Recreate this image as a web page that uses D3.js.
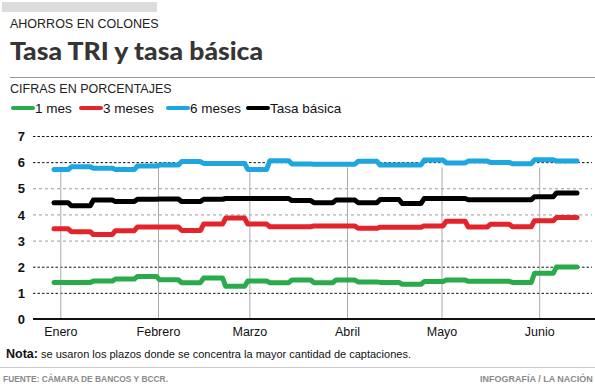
<!DOCTYPE html>
<html>
<head>
<meta charset="utf-8">
<script src="https://cdn.jsdelivr.net/npm/d3@7"></script>
<style>
  body { margin: 0; background: #fff; }
  text { font-family: "Liberation Sans", Arial, sans-serif; }
</style>
</head>
<body>
<div id="chart"></div>
<script>
// Weekly change dates (each value holds until the next date)
var weekDates = ["2015-12-30", "2016-01-04", "2016-01-11", "2016-01-18", "2016-01-25",
  "2016-02-01", "2016-02-08", "2016-02-15", "2016-02-22", "2016-02-29",
  "2016-03-07", "2016-03-14", "2016-03-21", "2016-03-28", "2016-04-04",
  "2016-04-11", "2016-04-18", "2016-04-25", "2016-05-02", "2016-05-09",
  "2016-05-16", "2016-05-23", "2016-05-30", "2016-06-06"];
var lastDate = "2016-06-13";

var oneMonth = [1.40, 1.40, 1.45, 1.53, 1.63, 1.50, 1.39, 1.57, 1.25, 1.45, 1.39, 1.49,
  1.39, 1.49, 1.42, 1.40, 1.33, 1.43, 1.49, 1.44, 1.44, 1.40, 1.75, 1.99];
var threeMonths = [3.45, 3.34, 3.23, 3.38, 3.52, 3.52, 3.39, 3.63, 3.86, 3.63, 3.53, 3.53,
  3.56, 3.56, 3.47, 3.51, 3.51, 3.56, 3.74, 3.52, 3.62, 3.53, 3.76, 3.88];
var sixMonths = [5.72, 5.82, 5.77, 5.72, 5.85, 5.89, 6.02, 5.95, 5.95, 5.72, 6.05, 5.93,
  5.92, 5.92, 6.03, 5.89, 5.89, 6.08, 5.97, 6.04, 5.99, 5.94, 6.09, 6.04];
var basicRate = [4.45, 4.33, 4.55, 4.49, 4.58, 4.59, 4.49, 4.58, 4.61, 4.61, 4.61, 4.53,
  4.45, 4.55, 4.45, 4.57, 4.42, 4.61, 4.61, 4.56, 4.56, 4.56, 4.68, 4.82];

var seriesNames = ["1 mes", "3 meses", "6 meses", "Tasa básica"];
var seriesColors = ["#2aab4b", "#e3242b", "#1ea6e0", "#000000"];
var seriesValues = [oneMonth, threeMonths, sixMonths, basicRate];

var monthDates = ["2016-01-01", "2016-02-01", "2016-03-01", "2016-04-01", "2016-05-01", "2016-06-01"];
var monthLabels = ["Enero", "Febrero", "Marzo", "Abril", "Mayo", "Junio"];
var yTicks = [0, 1, 2, 3, 4, 5, 6, 7];

// chart size
var svgWidth = 595;
var svgHeight = 386;
var plotLeft = 33;
var plotRight = 592;
var legendX = [13, 81, 168, 248];

var parse = d3.timeParse("%Y-%m-%d");
var dates = weekDates.map(parse);
var endDate = parse(lastDate);

var svg = d3.select("#chart")
  .append("svg")
  .attr("width", svgWidth)
  .attr("height", svgHeight);

// header
svg.append("rect")
  .attr("x", 2).attr("y", 2)
  .attr("width", 155).attr("height", 10)
  .attr("fill", "#dcdcdc");

svg.append("text")
  .attr("x", 10).attr("y", 27.5)
  .attr("font-size", "12.5px")
  .attr("fill", "#222")
  .text("AHORROS EN COLONES");

svg.append("text")
  .attr("x", 10).attr("y", 59.5)
  .attr("font-size", "25px")
  .attr("font-weight", 900)
  .style("font-family", "Lato, sans-serif")
  .attr("textLength", 253)
  .attr("lengthAdjust", "spacingAndGlyphs")
  .attr("fill", "#353535")
  .text("Tasa TRI y tasa básica");

svg.append("line")
  .attr("x1", 10).attr("x2", 595)
  .attr("y1", 77.5).attr("y2", 77.5)
  .attr("stroke", "#999");

svg.append("text")
  .attr("x", 10).attr("y", 93)
  .attr("font-size", "12.5px")
  .attr("fill", "#222")
  .text("CIFRAS EN PORCENTAJES");

// legend
var legend = svg.selectAll(".legend")
  .data(seriesNames)
  .enter()
  .append("g")
  .attr("transform", (d, i) => `translate(${legendX[i]}, 108)`);

legend.append("line")
  .attr("x1", 0).attr("x2", 20)
  .attr("stroke", (d, i) => seriesColors[i])
  .attr("stroke-width", 4)
  .attr("stroke-linecap", "round");

legend.append("text")
  .attr("x", 22).attr("y", 4.5)
  .attr("font-size", "13.5px")
  .attr("fill", "#111")
  .text(d => d);

// scales
var xScale = d3.scaleTime()
  .domain([dates[0], endDate])
  .range([54, 577]);

var yScale = d3.scaleLinear()
  .domain([0, 7])
  .range([319, 136]);

// horizontal grid + y labels
var yAxis = svg.append("g")
  .attr("transform", `translate(${plotLeft}, 0)`)
  .call(d3.axisLeft(yScale)
    .tickValues(yTicks)
    .tickFormat(d3.format("d"))
    .tickSize(-(plotRight - plotLeft))
    .tickPadding(8));

yAxis.select(".domain").remove();
yAxis.selectAll(".tick line")
  .attr("stroke", d => (d >= 3 && d <= 5) ? "#9a9a9a" : "#111")
  .attr("stroke-dasharray", d => (d >= 3 && d <= 5) ? "3,3" : "2.5,2")
  .attr("opacity", d => d === 0 ? 0 : 1);
yAxis.selectAll(".tick text")
  .attr("font-size", "13px")
  .attr("font-weight", "bold")
  .attr("fill", "#111")
  .attr("dy", "0.36em");

// vertical month lines + labels
var xAxis = svg.append("g")
  .attr("transform", `translate(0, ${yScale(0)})`)
  .call(d3.axisBottom(xScale)
    .tickValues(monthDates.map(parse))
    .tickSize(-(yScale(0) - yScale(5.8)))
    .tickPadding(8)
    .tickFormat((d, i) => monthLabels[i]));

xAxis.select(".domain").remove();
xAxis.selectAll(".tick line")
  .attr("stroke", "#aaa");
xAxis.selectAll(".tick text")
  .attr("font-size", "12.5px")
  .attr("fill", "#111");

// step-like lines with short transitions
function stepPoints(values) {
  var pts = [[dates[0], values[0]]];
  var half = 12 * 3600 * 1000;
  for (var i = 1; i < values.length; i++) {
    pts.push([new Date(dates[i].getTime() - half), values[i - 1]]);
    pts.push([new Date(dates[i].getTime() + half), values[i]]);
  }
  pts.push([endDate, values[values.length - 1]]);
  return pts;
}

var line = d3.line()
  .x(d => xScale(d[0]))
  .y(d => yScale(d[1]));

svg.selectAll(".series")
  .data(seriesValues)
  .enter()
  .append("path")
  .attr("d", d => line(stepPoints(d)))
  .attr("fill", "none")
  .attr("stroke", (d, i) => seriesColors[i])
  .attr("stroke-width", 5)
  .attr("stroke-linejoin", "round")
  .attr("stroke-linecap", "round");

// x axis baseline
svg.append("line")
  .attr("x1", plotLeft).attr("x2", 595)
  .attr("y1", yScale(0)).attr("y2", yScale(0))
  .attr("stroke", "#111")
  .attr("stroke-width", 2);

// note
var note = svg.append("text")
  .attr("x", 6).attr("y", 358)
  .attr("font-size", "11px")
  .attr("fill", "#111");
note.append("tspan").attr("font-weight", "bold").attr("font-size", "12.5px").text("Nota:");
note.append("tspan").text(" se usaron los plazos donde se concentra la mayor cantidad de captaciones.");

svg.append("line")
  .attr("x1", 0).attr("x2", 595)
  .attr("y1", 367.5).attr("y2", 367.5)
  .attr("stroke", "#ccc");

// footer
svg.append("text")
  .attr("x", 3).attr("y", 381.5)
  .attr("font-size", "9.6px")
  .attr("font-weight", "bold")
  .attr("textLength", 165)
  .attr("lengthAdjust", "spacingAndGlyphs")
  .attr("fill", "#8a8a8a")
  .text("FUENTE: CÁMARA DE BANCOS Y BCCR.");

svg.append("text")
  .attr("x", 480).attr("y", 381.5)
  .attr("font-size", "9px")
  .attr("font-weight", "bold")
  .attr("fill", "#8a8a8a")
  .text("INFOGRAFÍA / LA NACIÓN");
</script>
</body>
</html>
